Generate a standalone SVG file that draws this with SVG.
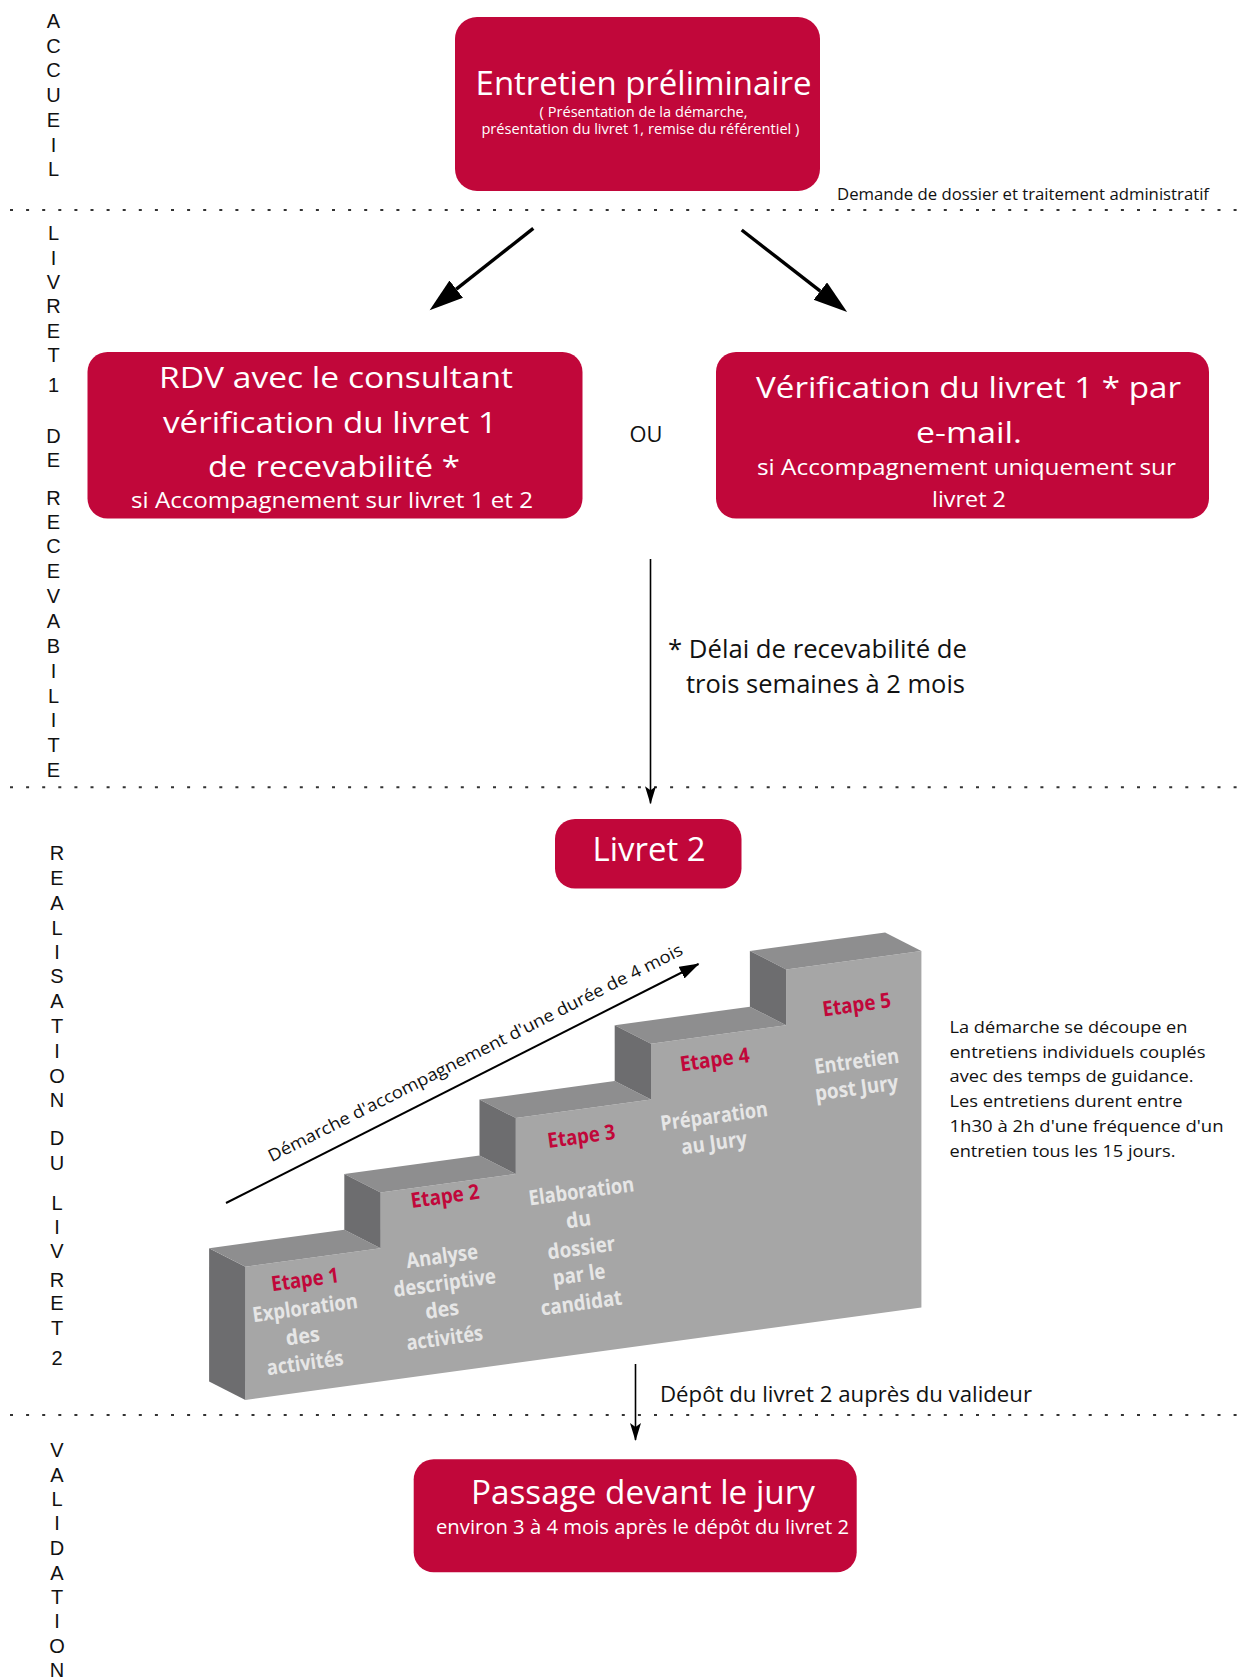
<svg xmlns="http://www.w3.org/2000/svg" width="1247" height="1680" viewBox="0 0 1247 1680">
<style>
.box{fill:#c1073a}
.wt{fill:#fff;font-family:"Open Sans","Noto Sans",sans-serif;text-anchor:middle}
.bt{fill:#111;font-family:"Open Sans","Noto Sans",sans-serif}
.side{fill:#111;font-family:"Liberation Sans","Open Sans",sans-serif;font-size:20px;text-anchor:middle}
.dots{stroke:#333;stroke-width:2;stroke-dasharray:3 13.1;fill:none}
.front{fill:#a6a6a6}
.top{fill:#8e8e8f}
.dark{fill:#6d6d6f}
.et{fill:#c1073a;font-family:"Open Sans","Noto Sans",sans-serif;font-weight:bold;font-size:21px;text-anchor:middle}
.ds{fill:#e6e6e6;font-family:"Open Sans","Noto Sans",sans-serif;font-weight:bold;font-size:21px;text-anchor:middle}
</style>
<defs>
<marker id="hBig" markerUnits="userSpaceOnUse" markerWidth="36" markerHeight="24" refX="0" refY="11" orient="auto">
<path d="M0,0 L34,11 L0,22 Z" fill="#000"/>
</marker>
<marker id="hSmall" markerUnits="userSpaceOnUse" markerWidth="20" markerHeight="12" refX="17" refY="5.5" orient="auto">
<path d="M0,0 L18,5.5 L0,11 L4,5.5 Z" fill="#000"/>
</marker>
<marker id="hDiag" markerUnits="userSpaceOnUse" markerWidth="22" markerHeight="14" refX="19" refY="6.5" orient="auto">
<path d="M0,0 L20,6.5 L0,13 Z" fill="#000"/>
</marker>
</defs>

<g id="section-labels">
<text class="side"><tspan x="53.5" y="28">A</tspan><tspan x="53.5" y="52.7">C</tspan><tspan x="53.5" y="77.4">C</tspan><tspan x="53.5" y="102.1">U</tspan><tspan x="53.5" y="126.8">E</tspan><tspan x="53.5" y="151.5">I</tspan><tspan x="53.5" y="176.2">L</tspan></text>
<text class="side"><tspan x="53.5" y="240">L</tspan><tspan x="53.5" y="265">I</tspan><tspan x="53.5" y="288.5">V</tspan><tspan x="53.5" y="313.3">R</tspan><tspan x="53.5" y="338">E</tspan><tspan x="53.5" y="361.7">T</tspan><tspan x="53.5" y="391.7">1</tspan><tspan x="53.5" y="443.3">D</tspan><tspan x="53.5" y="467">E</tspan><tspan x="53.5" y="505">R</tspan><tspan x="53.5" y="528.5">E</tspan><tspan x="53.5" y="553.3">C</tspan><tspan x="53.5" y="578.3">E</tspan><tspan x="53.5" y="603.3">V</tspan><tspan x="53.5" y="628.3">A</tspan><tspan x="53.5" y="653.3">B</tspan><tspan x="53.5" y="678.3">I</tspan><tspan x="53.5" y="703">L</tspan><tspan x="53.5" y="727">I</tspan><tspan x="53.5" y="751.7">T</tspan><tspan x="53.5" y="776.5">E</tspan></text>
<text class="side"><tspan x="57" y="860">R</tspan><tspan x="57" y="885">E</tspan><tspan x="57" y="910">A</tspan><tspan x="57" y="934.7">L</tspan><tspan x="57" y="958.5">I</tspan><tspan x="57" y="983.3">S</tspan><tspan x="57" y="1008.3">A</tspan><tspan x="57" y="1033.3">T</tspan><tspan x="57" y="1058.3">I</tspan><tspan x="57" y="1083">O</tspan><tspan x="57" y="1107">N</tspan><tspan x="57" y="1145">D</tspan><tspan x="57" y="1170">U</tspan><tspan x="57" y="1210">L</tspan><tspan x="57" y="1233.6">I</tspan><tspan x="57" y="1258.3">V</tspan><tspan x="57" y="1286.5">R</tspan><tspan x="57" y="1310.3">E</tspan><tspan x="57" y="1335">T</tspan><tspan x="57" y="1365">2</tspan></text>
<text class="side"><tspan x="57" y="1456.7">V</tspan><tspan x="57" y="1481.5">A</tspan><tspan x="57" y="1506.3">L</tspan><tspan x="57" y="1530.3">I</tspan><tspan x="57" y="1555">D</tspan><tspan x="57" y="1579.7">A</tspan><tspan x="57" y="1604.3">T</tspan><tspan x="57" y="1628.3">I</tspan><tspan x="57" y="1652.5">O</tspan><tspan x="57" y="1676.5">N</tspan></text>
</g>

<g id="separators">
<line class="dots" x1="10" y1="210" x2="1247" y2="210"/>
<line class="dots" x1="10" y1="787.3" x2="1247" y2="787.3"/>
<line class="dots" x1="10" y1="1415" x2="1247" y2="1415"/>
</g>

<g id="node-entretien">
<rect class="box" x="455" y="17" width="365" height="174" rx="22"/>
<text class="wt" x="643.6" y="95" font-size="33" textLength="336" lengthAdjust="spacingAndGlyphs">Entretien préliminaire</text>
<text class="wt" x="643.6" y="116.7" font-size="14" textLength="208" lengthAdjust="spacingAndGlyphs">( Présentation de la démarche,</text>
<text class="wt" x="640.4" y="134.3" font-size="14" textLength="318" lengthAdjust="spacingAndGlyphs">présentation du livret 1, remise du référentiel )</text>
</g>

<g id="note-demande">
<text class="bt" x="837" y="200" font-size="16.5" textLength="372" lengthAdjust="spacingAndGlyphs">Demande de dossier et traitement administratif</text>
</g>

<g id="node-rdv">
<rect class="box" x="87.5" y="352" width="495" height="166.5" rx="20"/>
<text class="wt" x="336" y="388.3" font-size="30" textLength="354" lengthAdjust="spacingAndGlyphs">RDV avec le consultant</text>
<text class="wt" x="330" y="433.3" font-size="30" textLength="334" lengthAdjust="spacingAndGlyphs">vérification du livret 1</text>
<text class="wt" x="334" y="476.7" font-size="30" textLength="252" lengthAdjust="spacingAndGlyphs">de recevabilité *</text>
<text class="wt" x="332" y="508.3" font-size="22" textLength="402" lengthAdjust="spacingAndGlyphs">si Accompagnement sur livret 1 et 2</text>
</g>

<g id="label-ou">
<text class="bt" x="646" y="442" font-size="21" text-anchor="middle" textLength="33" lengthAdjust="spacingAndGlyphs">OU</text>
</g>

<g id="node-verification">
<rect class="box" x="716" y="352" width="493" height="166.5" rx="20"/>
<text class="wt" x="968.5" y="398.3" font-size="30" textLength="425" lengthAdjust="spacingAndGlyphs">Vérification du livret 1 * par</text>
<text class="wt" x="969" y="442.7" font-size="30" textLength="106" lengthAdjust="spacingAndGlyphs">e-mail.</text>
<text class="wt" x="966.5" y="475" font-size="22" textLength="419" lengthAdjust="spacingAndGlyphs">si Accompagnement uniquement sur</text>
<text class="wt" x="969" y="506.7" font-size="22" textLength="74" lengthAdjust="spacingAndGlyphs">livret 2</text>
</g>

<g id="note-delai">
<text class="bt" x="668" y="658" font-size="25" textLength="299" lengthAdjust="spacingAndGlyphs">* Délai de recevabilité de</text>
<text class="bt" x="686" y="693.3" font-size="25" textLength="279" lengthAdjust="spacingAndGlyphs">trois semaines à 2 mois</text>
</g>

<g id="node-livret2">
<rect class="box" x="555" y="819" width="186.5" height="69.5" rx="20"/>
<text class="wt" x="649" y="861" font-size="33" textLength="113" lengthAdjust="spacingAndGlyphs">Livret 2</text>
</g>

<g id="staircase">
<path class="front" d="M245.4,1400 L245.4,1266.7 L380.6,1248.2 L380.6,1192.4 L515.8,1173.9 L515.8,1118.1 L651,1099.6 L651,1043.7 L786.2,1025.2 L786.2,969.4 L921.4,950.9 L921.4,1307.4 Z"/>
<path class="dark" d="M245.4,1400 L245.4,1266.7 L209.1,1248.2 L209.1,1381.5 Z"/>
<path class="top" d="M245.4,1266.7 L380.6,1248.2 L344.3,1229.7 L209.1,1248.2 Z"/>
<path class="top" d="M380.6,1192.4 L515.8,1173.9 L479.5,1155.4 L344.3,1173.9 Z"/>
<path class="top" d="M515.8,1118.1 L651,1099.6 L614.7,1081.1 L479.5,1099.6 Z"/>
<path class="top" d="M651,1043.7 L786.2,1025.2 L749.9,1006.7 L614.7,1025.2 Z"/>
<path class="top" d="M786.2,969.4 L921.4,950.9 L885.1,932.4 L749.9,950.9 Z"/>
<path class="dark" d="M380.6,1192.4 L380.6,1248.2 L344.3,1229.7 L344.3,1173.9 Z"/>
<path class="dark" d="M515.8,1118.1 L515.8,1173.9 L479.5,1155.4 L479.5,1099.6 Z"/>
<path class="dark" d="M651,1043.7 L651,1099.6 L614.7,1081.1 L614.7,1025.2 Z"/>
<path class="dark" d="M786.2,969.4 L786.2,1025.2 L749.9,1006.7 L749.9,950.9 Z"/>
</g>

<g id="etape-1">
<text class="et" transform="translate(306,1286.7) rotate(-7.8)" textLength="68" lengthAdjust="spacingAndGlyphs">Etape 1</text>
<text class="ds" transform="translate(306,1315) rotate(-7.8)" textLength="106" lengthAdjust="spacingAndGlyphs">Exploration</text>
<text class="ds" transform="translate(303.6,1343.3) rotate(-7.8)" textLength="34" lengthAdjust="spacingAndGlyphs">des</text>
<text class="ds" transform="translate(306,1370) rotate(-7.8)" textLength="77" lengthAdjust="spacingAndGlyphs">activités</text>
</g>
<g id="etape-2">
<text class="et" transform="translate(446,1203.3) rotate(-7.8)" textLength="69" lengthAdjust="spacingAndGlyphs">Etape 2</text>
<text class="ds" transform="translate(443,1263.3) rotate(-7.8)" textLength="72" lengthAdjust="spacingAndGlyphs">Analyse</text>
<text class="ds" transform="translate(445.6,1290) rotate(-7.8)" textLength="103" lengthAdjust="spacingAndGlyphs">descriptive</text>
<text class="ds" transform="translate(443,1316.7) rotate(-7.8)" textLength="34" lengthAdjust="spacingAndGlyphs">des</text>
<text class="ds" transform="translate(445.6,1345) rotate(-7.8)" textLength="77" lengthAdjust="spacingAndGlyphs">activités</text>
</g>
<g id="etape-3">
<text class="et" transform="translate(582.3,1143.3) rotate(-7.8)" textLength="68" lengthAdjust="spacingAndGlyphs">Etape 3</text>
<text class="ds" transform="translate(582.3,1198.3) rotate(-7.8)" textLength="106" lengthAdjust="spacingAndGlyphs">Elaboration</text>
<text class="ds" transform="translate(579.4,1226.7) rotate(-7.8)" textLength="25" lengthAdjust="spacingAndGlyphs">du</text>
<text class="ds" transform="translate(582.3,1255) rotate(-7.8)" textLength="68" lengthAdjust="spacingAndGlyphs">dossier</text>
<text class="ds" transform="translate(580,1281.7) rotate(-7.8)" textLength="53" lengthAdjust="spacingAndGlyphs">par le</text>
<text class="ds" transform="translate(582.3,1310) rotate(-7.8)" textLength="82" lengthAdjust="spacingAndGlyphs">candidat</text>
</g>
<g id="etape-4">
<text class="et" transform="translate(715.6,1066.7) rotate(-7.8)" textLength="70" lengthAdjust="spacingAndGlyphs">Etape 4</text>
<text class="ds" transform="translate(715,1123.3) rotate(-7.8)" textLength="108" lengthAdjust="spacingAndGlyphs">Préparation</text>
<text class="ds" transform="translate(715,1150) rotate(-7.8)" textLength="66" lengthAdjust="spacingAndGlyphs">au Jury</text>
</g>
<g id="etape-5">
<text class="et" transform="translate(857.6,1011.7) rotate(-7.8)" textLength="69" lengthAdjust="spacingAndGlyphs">Etape 5</text>
<text class="ds" transform="translate(857.6,1068.3) rotate(-7.8)" textLength="85" lengthAdjust="spacingAndGlyphs">Entretien</text>
<text class="ds" transform="translate(857.6,1095) rotate(-7.8)" textLength="84" lengthAdjust="spacingAndGlyphs">post Jury</text>
</g>

<g id="note-demarche">
<text class="bt" transform="translate(478,1058) rotate(-26.8)" font-size="17" text-anchor="middle" textLength="462" lengthAdjust="spacingAndGlyphs">Démarche d'accompagnement d'une durée de 4 mois</text>
</g>

<g id="note-entretiens">
<text class="bt" font-size="17"><tspan x="949.5" y="1032.7" textLength="238" lengthAdjust="spacingAndGlyphs">La démarche se découpe en</tspan><tspan x="949.5" y="1057.5" textLength="256" lengthAdjust="spacingAndGlyphs">entretiens individuels couplés</tspan><tspan x="949.5" y="1082.3" textLength="244" lengthAdjust="spacingAndGlyphs">avec des temps de guidance.</tspan><tspan x="949.5" y="1107.1" textLength="233" lengthAdjust="spacingAndGlyphs">Les entretiens durent entre</tspan><tspan x="949.5" y="1131.9" textLength="274" lengthAdjust="spacingAndGlyphs">1h30 à 2h d'une  fréquence d'un</tspan><tspan x="949.5" y="1156.7" textLength="226" lengthAdjust="spacingAndGlyphs">entretien tous les 15 jours.</tspan></text>
</g>

<g id="note-depot">
<text class="bt" x="660" y="1401.7" font-size="21" textLength="372" lengthAdjust="spacingAndGlyphs">Dépôt du livret 2 auprès du valideur</text>
</g>

<g id="node-jury">
<rect class="box" x="413.7" y="1459.3" width="443" height="113" rx="20"/>
<text class="wt" x="643" y="1503.5" font-size="32" textLength="344" lengthAdjust="spacingAndGlyphs">Passage devant le jury</text>
<text class="wt" x="642.5" y="1533.5" font-size="19.5" textLength="413" lengthAdjust="spacingAndGlyphs">environ 3 à 4 mois après le dépôt du livret 2</text>
</g>

<g id="connectors" fill="none" stroke="#000">
<line x1="533.3" y1="228.3" x2="456.3" y2="289.2" stroke-width="3.4" marker-end="url(#hBig)"/>
<line x1="741.7" y1="230" x2="820.3" y2="291.1" stroke-width="3.4" marker-end="url(#hBig)"/>
<line x1="650.5" y1="559" x2="650.5" y2="803.3" stroke-width="1.6" marker-end="url(#hSmall)"/>
<line x1="226" y1="1203" x2="698.5" y2="964" stroke-width="2" marker-end="url(#hDiag)"/>
<line x1="635.5" y1="1364" x2="635.5" y2="1440" stroke-width="1.6" marker-end="url(#hSmall)"/>
</g>
</svg>
